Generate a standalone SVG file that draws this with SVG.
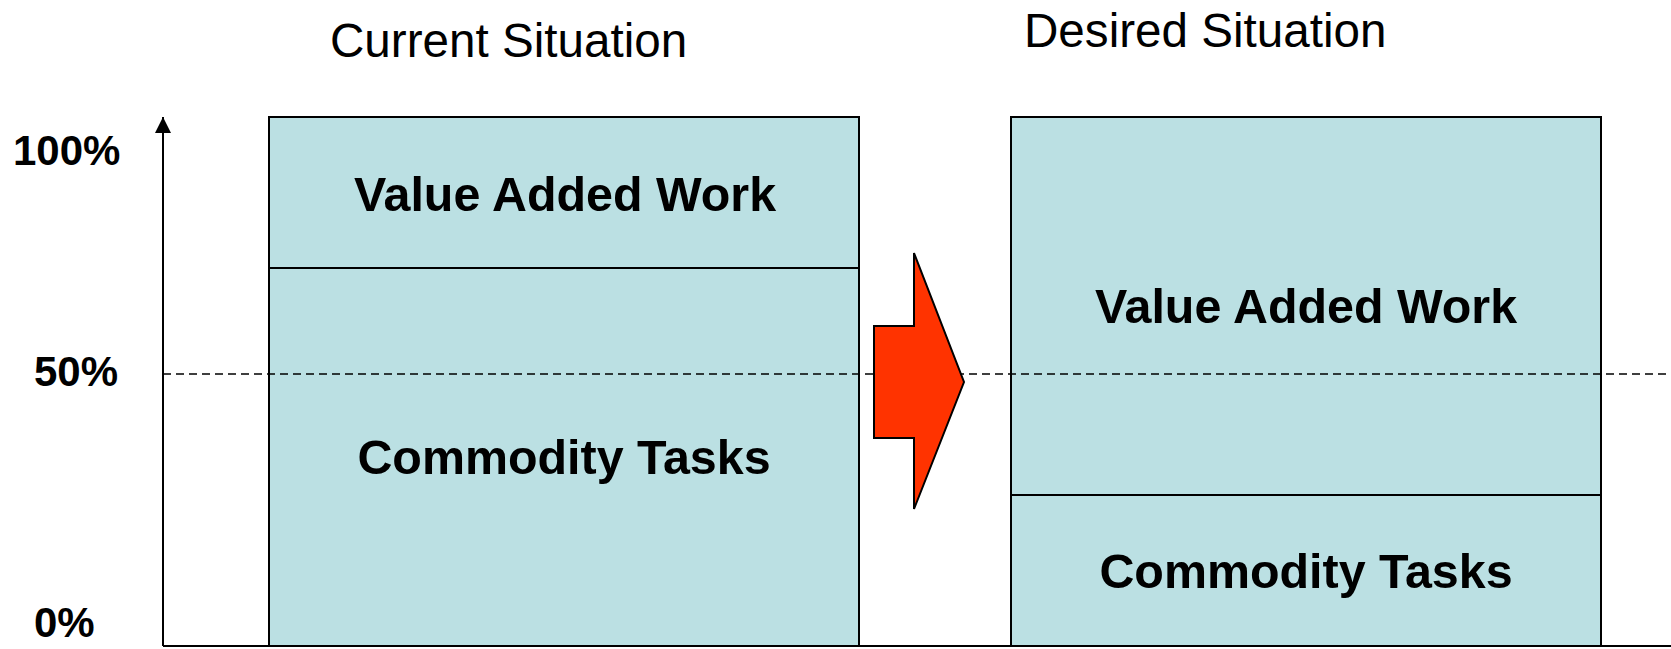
<svg xmlns="http://www.w3.org/2000/svg" width="1671" height="649" viewBox="0 0 1671 649">
  <style>
    .bar { fill: #BBE0E3; stroke: #000; stroke-width: 2; }
    .split { stroke: #000; stroke-width: 2; fill: none; }
    .axis { stroke: #000; stroke-width: 2; fill: none; }
    .grid { stroke: #000; stroke-width: 1.5; stroke-dasharray: 8 5; fill: none; }
    .title { font-family: "Liberation Sans", Arial, sans-serif; font-size: 47.6px; fill: #000; }
    .label { font-family: "Liberation Sans", Arial, sans-serif; font-size: 48.4px; font-weight: bold; fill: #000; text-anchor: middle; }
    .tick { font-family: "Liberation Sans", Arial, sans-serif; font-size: 42px; font-weight: bold; fill: #000; }
  </style>
  <defs>
    <marker id="axisHead" markerWidth="16" markerHeight="16" refX="16" refY="8" orient="auto" markerUnits="userSpaceOnUse">
      <path d="M0,0 L16,8 L0,16 Z" fill="#000"/>
    </marker>
  </defs>

  <rect width="1671" height="649" fill="#fff"/>

  <!-- column headings -->
  <text class="title" x="330" y="57">Current Situation</text>
  <text class="title" x="1024" y="47">Desired Situation</text>

  <!-- percentage scale -->
  <text class="tick" x="13" y="165">100%</text>
  <text class="tick" x="34" y="386">50%</text>
  <text class="tick" x="34" y="637">0%</text>

  <!-- current split -->
  <g id="current">
    <rect class="bar" x="269" y="117" width="590" height="529"/>
    <line class="split" x1="269" y1="268" x2="859" y2="268"/>
    <text class="label" x="565" y="211">Value Added Work</text>
    <text class="label" x="564" y="474">Commodity Tasks</text>
  </g>

  <!-- desired split -->
  <g id="desired">
    <rect class="bar" x="1011" y="117" width="590" height="529"/>
    <line class="split" x1="1011" y1="495" x2="1601" y2="495"/>
    <text class="label" x="1306" y="323">Value Added Work</text>
    <text class="label" x="1306" y="588">Commodity Tasks</text>
  </g>

  <!-- axes and 50% reference line -->
  <g id="connectors">
    <line class="axis" x1="163" y1="646" x2="163" y2="117" marker-end="url(#axisHead)"/>
    <line class="axis" x1="163" y1="646" x2="1671" y2="646"/>
    <line class="grid" x1="163" y1="374" x2="1671" y2="374"/>
  </g>

  <!-- transition arrow -->
  <g id="shift">
    <polygon points="874,326 914,326 914,253 964,382 914,509 914,438 874,438" fill="#FF3300" stroke="#000" stroke-width="2" stroke-linejoin="miter"/>
  </g>
</svg>
